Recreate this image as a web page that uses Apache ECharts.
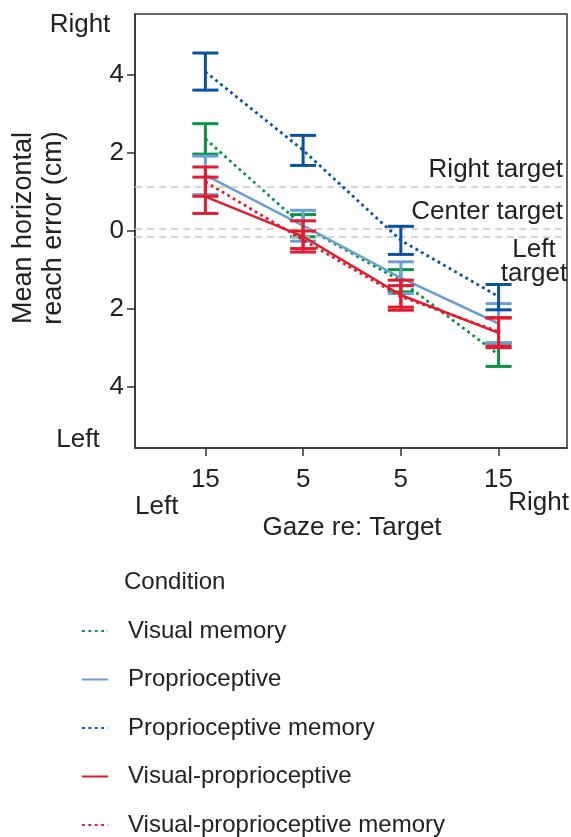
<!DOCTYPE html>
<html>
<head>
<meta charset="utf-8">
<script src="https://cdn.jsdelivr.net/npm/echarts@6.0.0/dist/echarts.min.js"></script>
<style>html,body{margin:0;padding:0;background:#fff}#c{width:571px;height:837px}</style>
</head>
<body>
<div id="c"></div>
<script>
// ---- data ----
var xPositions = [1, 2, 3, 4];
var xTickLabels = ['15', '5', '5', '15'];
var yTickValues = [-4, -2, 0, 2, 4];
var seriesNames = ['Visual memory', 'Proprioceptive', 'Proprioceptive memory', 'Visual-proprioceptive', 'Visual-proprioceptive memory'];

var visualMemoryMean = [2.36, 0.13, -1.28, -3.17];
var visualMemoryLow  = [1.97, -0.15, -1.56, -3.47];
var visualMemoryHigh = [2.75, 0.42, -0.99, -2.87];

var proprioceptiveMean = [1.43, 0.14, -1.20, -2.37];
var proprioceptiveLow  = [0.93, -0.26, -1.60, -2.87];
var proprioceptiveHigh = [1.92, 0.53, -0.79, -1.86];

var propMemoryMean = [4.08, 2.07, -0.24, -1.68];
var propMemoryLow  = [3.61, 1.68, -0.60, -2.02];
var propMemoryHigh = [4.56, 2.45, 0.12, -1.37];

var visPropMean = [0.88, -0.14, -1.64, -2.61];
var visPropLow  = [0.45, -0.54, -2.03, -2.99];
var visPropHigh = [1.38, 0.26, -1.26, -2.23];

var visPropMemMean = [1.26, -0.23, -1.68, -2.58];
var visPropMemLow  = [0.89, -0.45, -1.95, -2.95];
var visPropMemHigh = [1.64, 0.00, -1.40, -2.22];

var targetLines = [1.13, 0.05, -0.14];
var targetLabels = ['Right target', 'Center target', 'Left\ntarget'];

// ---- styles ----
var FONT = 'Liberation Sans, Arial, Helvetica, sans-serif';
var C_GREEN = '#079447', C_LBLUE = '#6a9fd6', C_DBLUE = '#0a51a1', C_RED = '#e31b2c';
var FS = 26;

var groups = [
  {name: seriesNames[0], mean: visualMemoryMean, lo: visualMemoryLow, hi: visualMemoryHigh, color: C_GREEN, dotted: true},
  {name: seriesNames[1], mean: proprioceptiveMean, lo: proprioceptiveLow, hi: proprioceptiveHigh, color: C_LBLUE, dotted: false},
  {name: seriesNames[2], mean: propMemoryMean, lo: propMemoryLow, hi: propMemoryHigh, color: C_DBLUE, dotted: true},
  {name: seriesNames[3], mean: visPropMean, lo: visPropLow, hi: visPropHigh, color: C_RED, dotted: false},
  {name: seriesNames[4], mean: visPropMemMean, lo: visPropMemLow, hi: visPropMemHigh, color: C_RED, dotted: true}
];

function errRender(color) {
  return function (params, api) {
    var x = api.value(0), lo = api.value(1), hi = api.value(2);
    var pHi = api.coord([x, hi]), pLo = api.coord([x, lo]);
    var hw = 13;
    var st = {stroke: color, lineWidth: 3, fill: null};
    return {type: 'group', children: [
      {type: 'line', shape: {x1: pHi[0], y1: pHi[1], x2: pLo[0], y2: pLo[1]}, style: st},
      {type: 'line', shape: {x1: pHi[0] - hw, y1: pHi[1], x2: pHi[0] + hw, y2: pHi[1]}, style: st},
      {type: 'line', shape: {x1: pLo[0] - hw, y1: pLo[1], x2: pLo[0] + hw, y2: pLo[1]}, style: st}
    ]};
  };
}

var series = [];
groups.forEach(function (g, i) {
  series.push({
    name: g.name,
    type: 'line',
    data: xPositions.map(function (x, k) { return [x, g.mean[k]]; }),
    symbol: 'none',
    z: 3 + i,
    lineStyle: {color: g.color, width: g.dotted ? 2.8 : 2.5, type: g.dotted ? [2.8, 3.6] : 'solid'},
    itemStyle: {color: g.color}
  });
  series.push({
    name: g.name + ' err',
    type: 'custom',
    renderItem: errRender(g.color),
    data: xPositions.map(function (x, k) { return [x, g.lo[k], g.hi[k]]; }),
    encode: {x: 0, y: [1, 2]},
    z: 3 + i,
    silent: true
  });
});

// reference target lines (attached to a helper series)
series.push({
  name: 'targets',
  type: 'line',
  data: [],
  z: 1,
  markLine: {
    silent: true,
    symbol: 'none',
    lineStyle: {color: '#c8c8c8', width: 1.5, type: [7, 5]},
    data: targetLines.map(function (v, i) {
      var lab = {
        show: true,
        formatter: targetLabels[i],
        position: i === 2 ? 'insideEndBottom' : 'insideEndTop',
        color: '#222',
        fontFamily: FONT,
        fontSize: FS,
        lineHeight: 24,
        distance: [4, 5]
      };
      if (i === 2) { lab.align = 'center'; lab.distance = [33, 1]; }
      return {yAxis: v, label: lab};
    })
  }
});

var chart = echarts.init(document.getElementById('c'), null, {renderer: 'canvas'});
chart.setOption({
  animation: false,
  backgroundColor: '#fff',
  textStyle: {fontFamily: FONT},
  grid: {left: 135, top: 14, width: 432, height: 434, show: true, borderColor: '#333', borderWidth: 1.5, backgroundColor: 'transparent'},
  xAxis: {
    type: 'value', min: 0.28, max: 4.7,
    axisLine: {show: true, onZero: false, lineStyle: {color: '#333', width: 1.5}},
    axisTick: {show: true, length: 8, lineStyle: {color: '#333', width: 1.5}, customValues: xPositions},
    axisLabel: {customValues: xPositions, color: '#222', fontSize: FS, fontFamily: FONT, margin: 19,
      formatter: function (v) { return xTickLabels[xPositions.indexOf(v)]; }},
    splitLine: {show: false}
  },
  yAxis: {
    type: 'value', min: -5.56, max: 5.56,
    axisLine: {show: true, onZero: false, lineStyle: {color: '#333', width: 1.5}},
    axisTick: {show: true, length: 8, lineStyle: {color: '#333', width: 1.5}, customValues: yTickValues},
    axisLabel: {customValues: yTickValues, color: '#222', fontSize: FS, fontFamily: FONT, margin: 11,
      formatter: function (v) { return String(Math.abs(v)); }},
    splitLine: {show: false}
  },
  legend: {
    orient: 'vertical', left: 76, top: 614, height: 230,
    data: seriesNames,
    itemWidth: 26, itemHeight: 20, itemGap: 24.5,
    itemStyle: {opacity: 0},
    textStyle: {fontSize: 24, fontFamily: FONT, color: '#222', lineHeight: 24, padding: [0, 0, 0, 15]},
    selectedMode: false
  },
  graphic: [
    {type: 'text', x: 80, y: 25, style: {text: 'Right', fontSize: FS, fontFamily: FONT, fill: '#222', align: 'center', verticalAlign: 'middle'}},
    {type: 'text', x: 78, y: 440, style: {text: 'Left', fontSize: FS, fontFamily: FONT, fill: '#222', align: 'center', verticalAlign: 'middle'}},
    {type: 'text', x: 135, y: 507, style: {text: 'Left', fontSize: FS, fontFamily: FONT, fill: '#222', align: 'left', verticalAlign: 'middle'}},
    {type: 'text', x: 569, y: 503, style: {text: 'Right', fontSize: FS, fontFamily: FONT, fill: '#222', align: 'right', verticalAlign: 'middle'}},
    {type: 'text', x: 352, y: 528, style: {text: 'Gaze re: Target', fontSize: FS, fontFamily: FONT, fill: '#222', align: 'center', verticalAlign: 'middle'}},
    {type: 'text', x: 39, y: 228, rotation: Math.PI / 2, style: {text: 'Mean horizontal\nreach error (cm)', fontSize: 27, lineHeight: 30, fontFamily: FONT, fill: '#222', align: 'center', verticalAlign: 'middle'}},
    {type: 'text', x: 124, y: 582, style: {text: 'Condition', fontSize: 24, fontFamily: FONT, fill: '#222', align: 'left', verticalAlign: 'middle'}}
  ],
  series: series
});
</script>
</body>
</html>
